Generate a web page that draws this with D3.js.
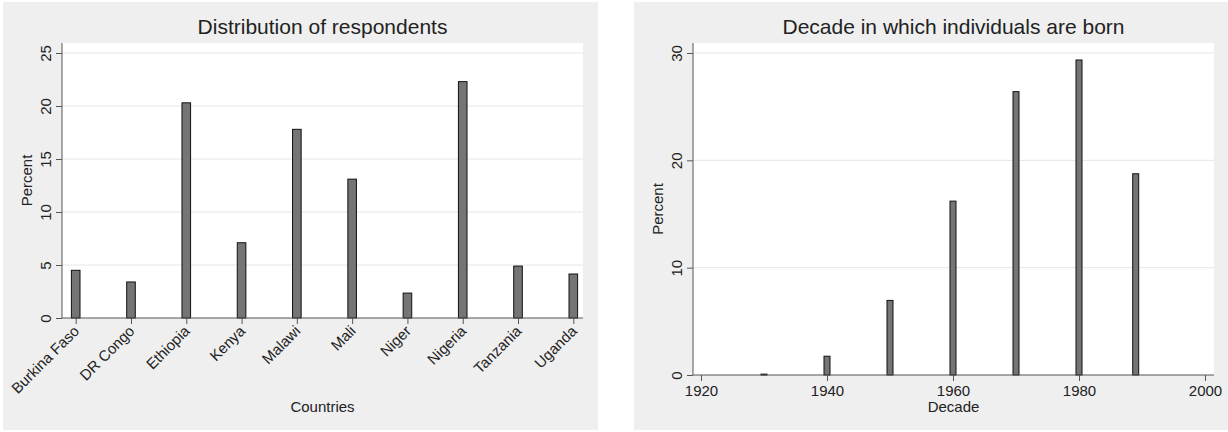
<!DOCTYPE html>
<html>
<head>
<meta charset="UTF-8" />
<script src="https://d3js.org/d3.v7.min.js"></script>
<style>
    body { margin: 0; background: #fff; }
    svg text { font-family: "Liberation Sans", Arial, sans-serif; fill: #222; }
</style>
</head>
<body>
<div id="chart"></div>
<script>
    // left chart: share of respondents by country
    const countries = ['Burkina Faso', 'DR Congo', 'Ethiopia', 'Kenya', 'Malawi',
        'Mali', 'Niger', 'Nigeria', 'Tanzania', 'Uganda']
    const countryPct = [4.5, 3.4, 20.3, 7.1, 17.8, 13.1, 2.35, 22.3, 4.9, 4.15]
    const leftTicks = [0, 5, 10, 15, 20, 25]

    // right chart: decade of birth
    const decades = [1930, 1940, 1950, 1960, 1970, 1980, 1989]
    const decadePct = [0.08, 1.75, 6.95, 16.2, 26.4, 29.35, 18.75]
    const decadeTicks = [1920, 1940, 1960, 1980, 2000]
    const rightTicks = [0, 10, 20, 30]

    const W = 1228, H = 432
    const svg = d3.select('#chart').append('svg')
        .attr('width', W).attr('height', H)

    const panelFill = '#efefef', gridCol = '#e6e6e6', axisCol = '#555',
        barFill = '#757575'

    function panel(o) {
        svg.append('rect')
            .attr('x', o.px0).attr('y', 2)
            .attr('width', o.px1 - o.px0).attr('height', 428)
            .attr('fill', panelFill)

        svg.append('rect')
            .attr('x', o.x0).attr('y', o.y0)
            .attr('width', o.x1 - o.x0).attr('height', o.yb - o.y0)
            .attr('fill', '#fff')

        // gridlines
        svg.append('g').selectAll('line')
            .data(o.yTicks.filter(d => d > 0))
            .join('line')
            .attr('x1', o.x0).attr('x2', o.x1)
            .attr('y1', d => o.y(d)).attr('y2', d => o.y(d))
            .attr('stroke', gridCol).attr('stroke-width', 1)

        // y axis
        const ya = svg.append('g')
            .attr('transform', `translate(${o.x0},0)`)
            .call(d3.axisLeft(o.y).tickValues(o.yTicks).tickSize(6).tickSizeOuter(0))
        ya.select('.domain').attr('stroke', axisCol).attr('d', `M0,${o.y0}V${o.yb}`)
        ya.selectAll('.tick line').attr('stroke', axisCol)
        ya.selectAll('.tick text')
            .attr('x', null).attr('dy', null)
            .attr('text-anchor', 'middle')
            .attr('transform', 'translate(-11,0) rotate(-90)')
            .style('font-size', '15px')

        svg.append('text')
            .attr('transform', `translate(${o.x0 - 30},${(o.y0 + o.yb) / 2}) rotate(-90)`)
            .attr('text-anchor', 'middle')
            .style('font-size', '15px')
            .text('Percent')

        svg.append('text')
            .attr('x', (o.x0 + o.x1) / 2).attr('y', 34)
            .attr('text-anchor', 'middle')
            .style('font-size', '21px')
            .text(o.title)
    }

    // ---------- left ----------
    const L = { px0: 3, px1: 598, x0: 62, x1: 583, y0: 43, yb: 318 }
    L.y = d3.scaleLinear().domain([0, 25]).range([318, 53])
    L.yTicks = leftTicks
    L.title = 'Distribution of respondents'
    panel(L)

    const xL = d3.scalePoint().domain(countries).range([75.7, 573.3])

    svg.append('g').selectAll('rect')
        .data(countries)
        .join('rect')
        .attr('x', d => xL(d) - 4.3)
        .attr('width', 8.6)
        .attr('y', (d, i) => L.y(countryPct[i]))
        .attr('height', (d, i) => L.y(0) - L.y(countryPct[i]))
        .attr('fill', barFill).attr('stroke', '#111').attr('stroke-width', 1)

    const xaL = svg.append('g')
        .attr('transform', `translate(0,${L.yb})`)
        .call(d3.axisBottom(xL).tickSize(6).tickSizeOuter(0))
    xaL.select('.domain').attr('stroke', axisCol).attr('d', `M${L.x0},0H${L.x1}`)
    xaL.selectAll('.tick line').attr('stroke', axisCol)
    xaL.selectAll('.tick text')
        .attr('y', null).attr('dy', null)
        .attr('text-anchor', 'end')
        .attr('transform', 'translate(4,14) rotate(-45)')
        .style('font-size', '15px')

    svg.append('text')
        .attr('x', (L.x0 + L.x1) / 2).attr('y', 412)
        .attr('text-anchor', 'middle')
        .style('font-size', '15px')
        .text('Countries')

    // ---------- right ----------
    const R = { px0: 634, px1: 1228, x0: 693, x1: 1214, y0: 43, yb: 375 }
    R.y = d3.scaleLinear().domain([0, 30]).range([375, 53])
    R.yTicks = rightTicks
    R.title = 'Decade in which individuals are born'
    panel(R)

    const xR = d3.scaleLinear().domain([1920, 2000]).range([701, 1205])

    svg.append('g').selectAll('rect')
        .data(decades)
        .join('rect')
        .attr('x', d => xR(d) - 3)
        .attr('width', 6)
        .attr('y', (d, i) => R.y(decadePct[i]))
        .attr('height', (d, i) => R.y(0) - R.y(decadePct[i]))
        .attr('fill', barFill).attr('stroke', '#111').attr('stroke-width', 1)

    const xaR = svg.append('g')
        .attr('transform', `translate(0,${R.yb})`)
        .call(d3.axisBottom(xR).tickValues(decadeTicks).tickFormat(d3.format('d'))
            .tickSize(6).tickSizeOuter(0))
    xaR.select('.domain').attr('stroke', axisCol).attr('d', `M${R.x0},0H${R.x1}`)
    xaR.selectAll('.tick line').attr('stroke', axisCol)
    xaR.selectAll('.tick text')
        .attr('y', 21).attr('dy', null)
        .style('font-size', '15px')

    svg.append('text')
        .attr('x', (R.x0 + R.x1) / 2).attr('y', 412)
        .attr('text-anchor', 'middle')
        .style('font-size', '15px')
        .text('Decade')
</script>
</body>
</html>
